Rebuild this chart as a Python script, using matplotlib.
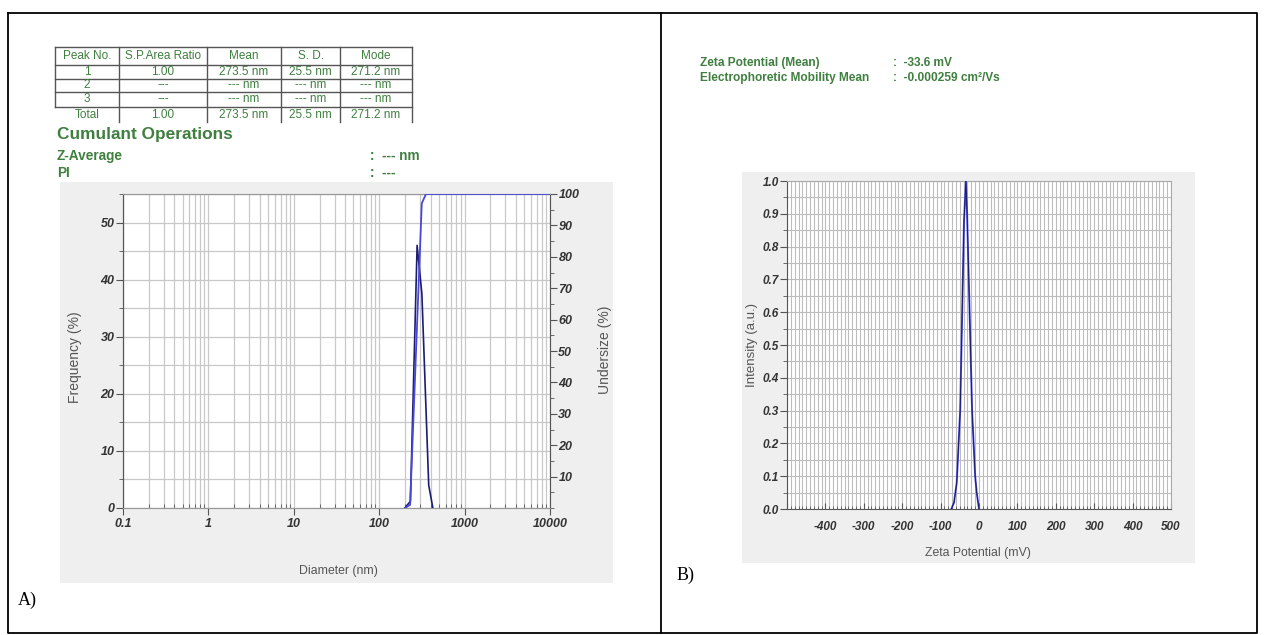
import numpy as np
import matplotlib.pyplot as plt
from matplotlib.patches import Rectangle
from matplotlib.ticker import LogLocator, MultipleLocator, NullFormatter

plt.rcParams['font.family'] = ['Liberation Sans', 'DejaVu Sans']
plt.rcParams['axes.unicode_minus'] = False

W, H = 1265, 635

# --- panel A: particle size ---
size_nm = [200, 232, 278, 316, 380, 425]
freq_pct = [0, 1.2, 46.0, 37.5, 4.0, 0]
under_nm = [200, 230, 315, 353, 10000]
under_pct = [0, 1.0, 97.0, 100, 100]

tbl_head = ['Peak No.', 'S.P.Area Ratio', 'Mean', 'S. D.', 'Mode']
tbl_peak = ['1', '2', '3', 'Total']
tbl_ratio = ['1.00', '---', '---', '1.00']
tbl_mean = ['273.5 nm', '--- nm', '--- nm', '273.5 nm']
tbl_sd = ['25.5 nm', '--- nm', '--- nm', '25.5 nm']
tbl_mode = ['271.2 nm', '--- nm', '--- nm', '271.2 nm']

# --- panel B: zeta potential ---
zeta_mv = [-72, -65, -58, -49, -39, -34, -31, -18, -10, -6, 0]
intensity = [0, 0.02, 0.08, 0.3, 0.88, 1.0, 0.9, 0.3, 0.1, 0.05, 0]

GREEN = '#3f7f3f'
TXT = '#555555'


def rect(x0, y0, x1, y1):
    return [x0 / W, 1 - y1 / H, (x1 - x0) / W, (y1 - y0) / H]


def style_labels(ax, which='both'):
    labels = []
    if which in ('both', 'x'):
        labels += ax.get_xticklabels()
    if which in ('both', 'y'):
        labels += ax.get_yticklabels()
    for lb in labels:
        lb.set_fontstyle('italic')
        lb.set_fontweight('bold')
        lb.set_color('#333333')


fig = plt.figure(figsize=(W / 100, H / 100), dpi=100)

# overlay in pixel coords for frame, table and headings
ov = fig.add_axes([0, 0, 1, 1])
ov.set_xlim(0, W)
ov.set_ylim(H, 0)
ov.axis('off')

ov.plot([8, 1257, 1257, 8, 8], [13, 13, 633, 633, 13], color='black', lw=1.3)
ov.plot([661, 661], [13, 633], color='black', lw=1.3)
ov.add_patch(Rectangle((60, 182), 553, 401, facecolor='#efefef', edgecolor='none'))
ov.add_patch(Rectangle((742, 172), 453, 391, facecolor='#efefef', edgecolor='none'))

ov.text(18, 600, 'A)', family='Liberation Serif', fontsize=13, va='center')
ov.text(677, 575, 'B)', family='Liberation Serif', fontsize=13, va='center')

# results table
col_x = [55, 119, 207, 281, 340, 412]
row_y = [47, 65, 79, 92, 107, 122]
for y in row_y[:-1]:
    ov.plot([col_x[0], col_x[-1]], [y, y], color='#555555', lw=1)
ov.plot([col_x[0], col_x[0]], [row_y[0], row_y[4]], color='#555555', lw=1)
for x in col_x[1:]:
    ov.plot([x, x], [row_y[0], row_y[-1]], color='#555555', lw=1)

centers = [(col_x[i] + col_x[i + 1]) / 2 for i in range(5)]
for c, t in zip(centers, tbl_head):
    ov.text(c, 56, t, ha='center', va='center', fontsize=8.5, color=GREEN)
cols = [tbl_peak, tbl_ratio, tbl_mean, tbl_sd, tbl_mode]
for r in range(4):
    yc = (row_y[r + 1] + row_y[r + 2]) / 2
    for c, col in zip(centers, cols):
        ov.text(c, yc, col[r], ha='center', va='center', fontsize=8.5, color=GREEN)

ov.text(57, 135, 'Cumulant Operations', fontsize=12.4, fontweight='bold', color=GREEN, va='center')
ov.text(57, 156, 'Z-Average', fontsize=9.8, fontweight='bold', color=GREEN, va='center')
ov.text(57, 173, 'PI', fontsize=9.8, fontweight='bold', color=GREEN, va='center')
ov.text(370, 156, ':  --- nm', fontsize=9.8, fontweight='bold', color=GREEN, va='center')
ov.text(370, 173, ':  ---', fontsize=9.8, fontweight='bold', color=GREEN, va='center')

ov.text(700, 63, 'Zeta Potential (Mean)', fontsize=8.6, fontweight='bold', color=GREEN, va='center')
ov.text(700, 78, 'Electrophoretic Mobility Mean', fontsize=8.6, fontweight='bold', color=GREEN, va='center')
ov.text(893, 63, ':  -33.6 mV', fontsize=8.6, fontweight='bold', color=GREEN, va='center')
ov.text(893, 78, ':  -0.000259 cm²/Vs', fontsize=8.6, fontweight='bold', color=GREEN, va='center')

# axis titles
ov.text(75, 357, 'Frequency (%)', rotation=90, ha='center', va='center', fontsize=10, color=TXT)
ov.text(605, 350, 'Undersize (%)', rotation=90, ha='center', va='center', fontsize=10, color=TXT)
ov.text(338, 571, 'Diameter (nm)', ha='center', va='center', fontsize=8.8, color=TXT)
ov.text(752, 345, 'Intensity (a.u.)', rotation=90, ha='center', va='center', fontsize=9.5, color=TXT)
ov.text(978, 553, 'Zeta Potential (mV)', ha='center', va='center', fontsize=8.8, color=TXT)

# ---------- panel A plot ----------
axA = fig.add_axes(rect(123, 194, 550, 508))
axA.set_xscale('log')
axA.set_xlim(0.1, 10000)
axA.set_ylim(0, 55)
axA.set_xticks([0.1, 1, 10, 100, 1000, 10000],
               labels=['0.1', '1', '10', '100', '1000', '10000'])
axA.xaxis.set_minor_locator(LogLocator(base=10, subs=range(2, 10), numticks=20))
axA.xaxis.set_minor_formatter(NullFormatter())
axA.set_yticks(range(0, 51, 10))
axA.yaxis.set_minor_locator(MultipleLocator(5))
axA.grid(which='both', color='#c8c8c8', lw=0.9)
axA.set_axisbelow(True)
axA.tick_params(axis='x', which='major', direction='out', length=5, pad=2,
                labelsize=9, colors='#555555', labelcolor='#333333')
axA.tick_params(axis='x', which='minor', direction='in', length=3, colors='#555555')
axA.tick_params(axis='y', which='major', direction='out', length=5, pad=1,
                labelsize=9, colors='#555555', labelcolor='#333333')
axA.tick_params(axis='y', which='minor', direction='out', length=3, colors='#555555')
for s in axA.spines.values():
    s.set_color('#999999')
axA.spines['left'].set_color('#555555')
axA.plot(size_nm, freq_pct, color='#1c1c70', lw=1.2, zorder=3)
style_labels(axA)

axA2 = axA.twinx()
axA2.set_ylim(0, 100)
axA2.set_yticks(range(10, 101, 10))
axA2.yaxis.set_minor_locator(MultipleLocator(5))
axA2.tick_params(axis='y', which='major', direction='out', length=5, pad=1,
                 labelsize=9, colors='#555555', labelcolor='#333333')
axA2.tick_params(axis='y', which='minor', direction='out', length=3, colors='#555555')
for s in axA2.spines.values():
    s.set_color('#999999')
axA2.spines['left'].set_color('#555555')
axA2.spines['right'].set_color('#555555')
axA2.plot(under_nm, under_pct, color='#4848d8', lw=1.3, zorder=3)
style_labels(axA2, 'y')

# ---------- panel B plot ----------
axB = fig.add_axes(rect(787, 181, 1171, 509))
axB.set_xlim(-500, 500)
axB.set_ylim(0, 1.0)
axB.set_xticks(range(-500, 501, 100),
               labels=[''] + [str(v) for v in range(-400, 501, 100)])
axB.xaxis.set_minor_locator(MultipleLocator(10))
axB.set_yticks(np.round(np.arange(0, 1.01, 0.1), 1),
               labels=['%.1f' % v for v in np.arange(0, 1.01, 0.1)])
axB.yaxis.set_minor_locator(MultipleLocator(0.05))
axB.grid(which='both', color='#bdbdbd', lw=0.8)
axB.set_axisbelow(True)
axB.tick_params(axis='x', which='major', direction='in', length=4, pad=9,
                labelsize=8.5, colors='#555555', labelcolor='#333333')
axB.tick_params(axis='x', which='minor', direction='in', length=2.5, colors='#555555')
axB.tick_params(axis='y', which='major', direction='out', length=5, pad=1,
                labelsize=8.5, colors='#555555', labelcolor='#333333')
axB.tick_params(axis='y', which='minor', direction='out', length=3, colors='#555555')
for s in axB.spines.values():
    s.set_color('#aaaaaa')
axB.spines['left'].set_color('#555555')
axB.spines['bottom'].set_color('#555555')
axB.plot(zeta_mv, intensity, color='#5050e0', lw=1.4, zorder=3)
axB.plot(zeta_mv, intensity, color='#14145a', lw=0.6, zorder=4)
style_labels(axB)

fig.savefig('out.png', dpi=100)
